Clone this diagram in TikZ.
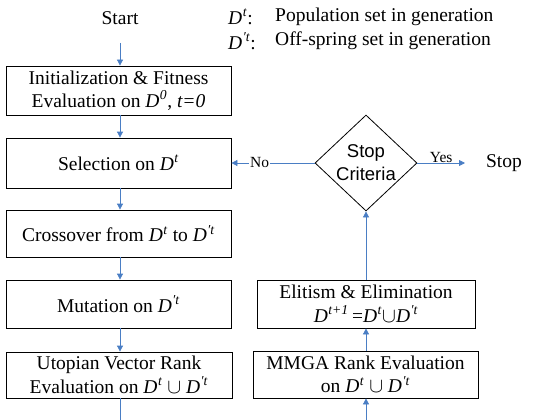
\documentclass[tikz,border=0pt]{standalone}
\usepackage{fontspec}
\setmainfont{Liberation Serif}
\newfontfamily\arialf{Liberation Sans}
\usetikzlibrary{shapes.geometric,arrows.meta}
\newcommand{\Dt}{\textit{D}\textsuperscript{\kern0.5pt\textit{t}}}
\newcommand{\Dpt}{\textit{D}\textsuperscript{\kern0.5pt\textit{\char"2032 t}}}
\definecolor{arrblue}{HTML}{4A7EC4}
\tikzset{
  box/.style={draw=black, line width=0.8pt, inner sep=0pt, align=center, font=\fontsize{19.5}{23.5}\selectfont},
  flow/.style={draw=arrblue, line width=0.8pt, -{Triangle[length=6pt,width=6pt]}},
  flowline/.style={draw=arrblue, line width=0.8pt},
  lbl/.style={font=\fontsize{19.5}{23.5}\selectfont, inner sep=0pt},
  small/.style={font=\fontsize{15.5}{18}\selectfont, inner sep=1pt}
}
\begin{document}
\begin{tikzpicture}[x=1pt,y=-1pt]
\useasboundingbox (0,0) rectangle (544,420);
% left column
\node[lbl] (start) at (120,18) {Start};
\node[box, minimum width=225, minimum height=49] (init) at (118.5,90.5) {Initialization \& Fitness\\Evaluation on \textit{D}\textsuperscript{\kern0.5pt\textit{0}}, \textit{t=0}};
\node[box, minimum width=225, minimum height=50] (sel) at (118.5,163) {Selection on \Dt};
\node[box, minimum width=225, minimum height=47] (cross) at (118.5,233.5) {Crossover from \Dt\ to \Dpt};
\node[box, minimum width=225, minimum height=48] (mut) at (118.5,304) {Mutation on \Dpt};
\node[box, minimum width=226, minimum height=46] (uto) at (119,375) {Utopian Vector Rank\\Evaluation on \Dt\ $\cup$ \Dpt};
% right column
\node[draw=black, line width=0.8pt, diamond, minimum width=102, minimum height=96, inner sep=0pt, aspect=1.06] (stopc) at (366,163) {};
\node[align=center, font=\arialf\fontsize{18.5}{23}\selectfont, inner sep=0pt] (stopt) at (366,163) {Stop\\Criteria};
\node[lbl] (stop) at (504,163) {Stop};
\node[box, minimum width=218, minimum height=48] (elit) at (366,304) {Elitism \& Elimination\\\textit{D}\textsuperscript{\kern0.5pt\textit{t+1}}\,=\Dt$\cup$\Dpt};
\node[box, minimum width=225, minimum height=47] (mmga) at (365.5,374.5) {MMGA Rank Evaluation\\on \Dt\ $\cup$ \Dpt};
% legend
\node[lbl, anchor=west] (leg1a) at (228,17) {\Dt:};
\node[lbl, anchor=west] (leg1b) at (275,17) {Population set in generation};
\node[lbl, anchor=west] (leg2a) at (228,41) {\Dpt:};
\node[lbl, anchor=west] (leg2b) at (275,41) {Off-spring set in generation};
% connectors
\coordinate (bl) at (120,420);
\coordinate (br) at (366,420);
\draw[flow] (120,43) -- (init.north -| 120,0);
\draw[flow] (init.south -| 120,0) -- (sel.north -| 120,0);
\draw[flow] (sel.south -| 120,0) -- (cross.north -| 120,0);
\draw[flow] (cross.south -| 120,0) -- (mut.north -| 120,0);
\draw[flow] (mut.south -| 120,0) -- (uto.north -| 120,0);
\draw[flowline] (uto.south -| 120,0) -- (bl);
\draw[flow] (br) -- (mmga.south -| 366,0);
\draw[flow] (mmga.north -| 366,0) -- (elit.south -| 366,0);
\draw[flow] (elit.north -| 366,0) -- (stopc.south);
\draw[flow] (stopc.west) -- node[small, fill=white, pos=0.66] {No} (sel.east);
\draw[flow] (stopc.east) -- node[small, above, pos=0.5, yshift=-1pt] {Yes} (465,163);
\end{tikzpicture}
\end{document}
